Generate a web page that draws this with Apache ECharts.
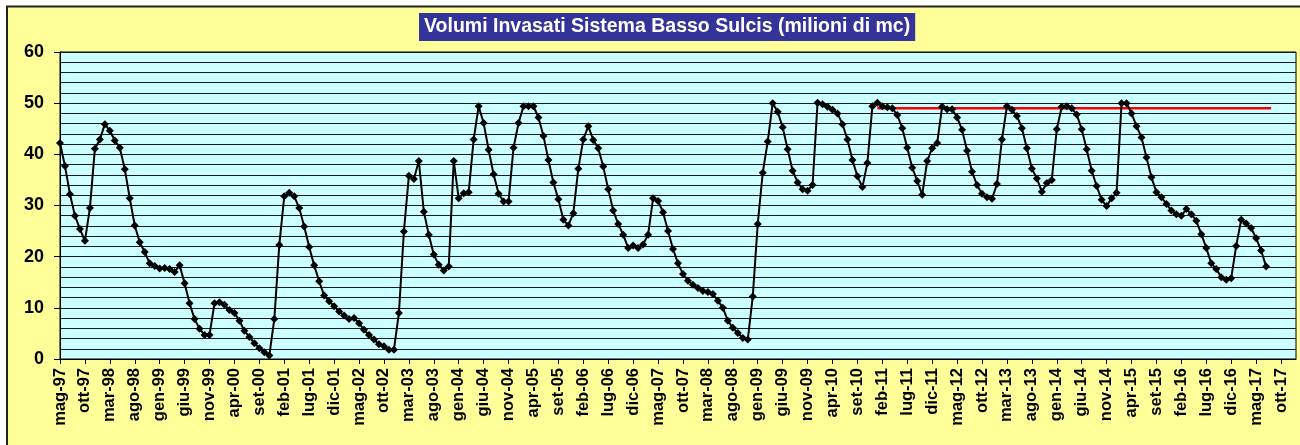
<!DOCTYPE html>
<html>
<head>
<meta charset="utf-8">
<script src="https://cdn.jsdelivr.net/npm/echarts@6/dist/echarts.min.js"></script>
<style>
html,body{margin:0;padding:0;background:#fff;}
#c{width:1300px;height:445px;}
</style>
</head>
<body>
<div id="c"></div>
<script>
// ---- data ----
const titleText = 'Volumi Invasati Sistema Basso Sulcis (milioni di mc)';
const monthNames = ['gen','feb','mar','apr','mag','giu','lug','ago','set','ott','nov','dic'];
const startYear = 1997, startMonth = 4, monthCount = 249; // mag-97 .. gen-18
const volumes = [
  42.2, 37.7, 32.2, 28.0, 25.4, 23.1, 29.5, 41.1, 42.9, 45.9,
  44.6, 42.7, 41.3, 37.1, 31.4, 26.1, 22.8, 20.9, 18.7, 18.2,
  17.7, 17.8, 17.6, 17.0, 18.3, 14.8, 10.9, 7.8, 5.9, 4.7,
  4.7, 10.9, 11.1, 10.6, 9.6, 9.0, 7.5, 5.5, 4.3, 3.1,
  2.1, 1.3, 0.7, 7.8, 22.3, 31.8, 32.5, 31.8, 29.5, 25.9,
  21.9, 18.3, 15.2, 12.4, 11.3, 10.3, 9.3, 8.5, 7.8, 8.0,
  7.0, 5.7, 4.7, 3.8, 2.9, 2.5, 1.8, 1.8, 9.0, 24.9,
  35.8, 35.2, 38.7, 28.8, 24.3, 20.4, 18.4, 17.3, 18.1, 38.7,
  31.4, 32.4, 32.6, 42.9, 49.4, 46.1, 40.9, 36.1, 32.3, 30.8,
  30.8, 41.3, 46.1, 49.4, 49.4, 49.4, 47.2, 43.6, 38.9, 34.5,
  31.2, 27.2, 26.1, 28.5, 37.2, 42.9, 45.5, 42.8, 41.2, 37.6,
  33.2, 29.0, 26.4, 24.3, 21.7, 22.2, 21.7, 22.4, 24.3, 31.4,
  30.9, 28.7, 25.0, 21.5, 18.7, 16.6, 15.3, 14.5, 13.9, 13.3,
  13.1, 12.7, 11.4, 10.0, 7.5, 6.1, 5.1, 4.1, 3.8, 12.2,
  26.4, 36.4, 42.5, 50.0, 48.3, 45.3, 41.0, 36.8, 34.5, 33.2,
  32.9, 34.0, 50.1, 49.8, 49.3, 48.7, 48.0, 45.9, 42.9, 38.9,
  35.7, 33.6, 38.3, 49.4, 50.1, 49.4, 49.2, 49.0, 47.7, 45.1,
  41.3, 37.4, 34.8, 32.1, 38.7, 41.2, 42.2, 49.3, 48.8, 48.8,
  47.2, 44.8, 40.7, 36.6, 34.0, 32.3, 31.6, 31.3, 34.2, 42.9,
  49.4, 48.7, 47.5, 45.1, 41.2, 37.2, 35.3, 32.7, 34.4, 35.0,
  44.9, 49.3, 49.4, 49.0, 47.8, 44.9, 41.0, 36.8, 33.8, 31.1,
  29.9, 31.4, 32.5, 50.0, 50.0, 48.0, 45.5, 43.3, 39.4, 35.5,
  32.6, 31.6, 30.3, 29.0, 28.3, 28.0, 29.3, 28.3, 27.0, 24.4,
  21.7, 18.7, 17.6, 16.0, 15.5, 15.8, 22.1, 27.2, 26.5, 25.6,
  23.6, 21.2, 18.1
];
const limitValue = 49;
const limitFrom = 'gen-11', limitTo = 'ago-17';
const yTicks = {min: 0, max: 60, step: 10, minorSplit: 5};

// ---- build categories ----
const categories = [];
for (let i = 0; i < monthCount; i++) {
  const m = (startMonth + i) % 12;
  const y = startYear + Math.floor((startMonth + i) / 12);
  categories.push(monthNames[m] + '-' + String(y % 100).padStart(2, '0'));
}
const iFrom = categories.indexOf(limitFrom), iTo = categories.indexOf(limitTo);
const limitSeries = categories.map((c, i) => (i >= iFrom && i <= iTo) ? limitValue : null);

const chart = echarts.init(document.getElementById('c'), null, {renderer: 'canvas'});
const FONT = 'Liberation Sans, Arial, sans-serif';
chart.setOption({
  animation: false,
  backgroundColor: '#ffffff',
  graphic: [{
    type: 'rect', z: -10, silent: true,
    shape: {x: 7, y: 6.5, width: 1310, height: 460},
    style: {fill: '#FFFF99', stroke: '#222', lineWidth: 2}
  }],
  title: {
    text: titleText,
    left: 419, top: 13,
    padding: [4, 5, 4, 5],
    backgroundColor: '#333399',
    textStyle: {color: '#ffffff', fontFamily: FONT, fontWeight: 'bold', fontSize: 19.5, lineHeight: 20}
  },
  grid: {
    left: 60, right: 4, top: 52, bottom: 86,
    show: true, backgroundColor: '#CCFFFF', borderColor: '#000', borderWidth: 1
  },
  xAxis: {
    type: 'category',
    data: categories,
    boundaryGap: false,
    axisLine: {lineStyle: {color: '#000', width: 1}},
    axisTick: {show: true, interval: 4, length: 5, lineStyle: {color: '#000'}},
    axisLabel: {
      interval: 4, rotate: 90, margin: 9,
      color: '#000', fontFamily: FONT, fontWeight: 'bold', fontSize: 16.5
    },
    splitLine: {show: false}
  },
  yAxis: {
    type: 'value',
    min: yTicks.min, max: yTicks.max, interval: yTicks.step,
    axisLine: {show: true, lineStyle: {color: '#000', width: 1}},
    axisTick: {show: true, length: 6, lineStyle: {color: '#000'}},
    axisLabel: {margin: 16, color: '#000', fontFamily: FONT, fontWeight: 'bold', fontSize: 18},
    splitLine: {show: true, lineStyle: {color: '#1a1a1a', width: 1}},
    minorTick: {show: false, splitNumber: yTicks.minorSplit},
    minorSplitLine: {show: true, lineStyle: {color: '#1a1a1a', width: 1}}
  },
  series: [
    {
      type: 'line',
      data: limitSeries,
      symbol: 'none',
      lineStyle: {color: '#FF0000', width: 2.5},
      z: 2
    },
    {
      type: 'line',
      data: volumes,
      symbol: 'diamond',
      symbolSize: 8,
      showAllSymbol: true,
      itemStyle: {color: '#000'},
      lineStyle: {color: '#000', width: 2},
      z: 3
    }
  ]
});
</script>
</body>
</html>
